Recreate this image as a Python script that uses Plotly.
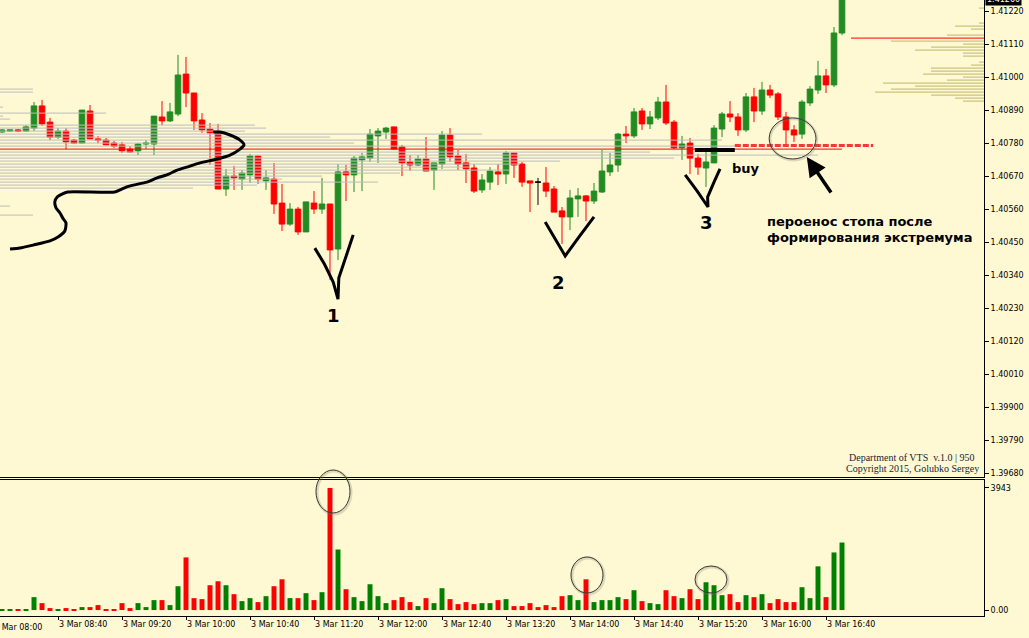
import pandas as pd
import plotly.graph_objects as go

# ---------------- EURUSD-style M5 session, 3 Mar ----------------
bar_times = pd.date_range("2015-03-03 08:05", periods=106, freq="5min")

open_ = [
    1.40817, 1.40820, 1.40824, 1.40820, 1.40830, 1.40904, 1.40850, 1.40800, 1.40820, 1.40790,
    1.40780, 1.40887, 1.40794, 1.40790, 1.40780, 1.40774, 1.40760, 1.40754, 1.40777, 1.40777,
    1.40867, 1.40854, 1.40877, 1.41010, 1.40947, 1.40857, 1.40827, 1.40814, 1.40627, 1.40670,
    1.40660, 1.40674, 1.40737, 1.40654, 1.40660, 1.40580, 1.40510, 1.40560, 1.40484, 1.40580,
    1.40560, 1.40577, 1.40427, 1.40684, 1.40674, 1.40724, 1.40730, 1.40804, 1.40817, 1.40834,
    1.40767, 1.40717, 1.40707, 1.40727, 1.40690, 1.40710, 1.40807, 1.40737, 1.40714, 1.40697,
    1.40624, 1.40650, 1.40684, 1.40677, 1.40747, 1.40710, 1.40654, 1.40650, 1.40647, 1.40627,
    1.40554, 1.40534, 1.40594, 1.40604, 1.40587, 1.40617, 1.40684, 1.40707, 1.40810, 1.40804,
    1.40887, 1.40844, 1.40864, 1.40917, 1.40850, 1.40764, 1.40780, 1.40730, 1.40697, 1.40714,
    1.40827, 1.40877, 1.40867, 1.40824, 1.40934, 1.40887, 1.40957, 1.40944, 1.40867, 1.40824,
    1.40810, 1.40914, 1.40957, 1.41004, 1.40974, 1.41147]

high = [
    1.40827, 1.40824, 1.40827, 1.40840, 1.40917, 1.40924, 1.40864, 1.40830, 1.40830, 1.40794,
    1.40890, 1.40907, 1.40804, 1.40797, 1.40787, 1.40784, 1.40770, 1.40780, 1.40790, 1.40870,
    1.40920, 1.40914, 1.41074, 1.41067, 1.40947, 1.40880, 1.40847, 1.40844, 1.40694, 1.40704,
    1.40690, 1.40744, 1.40740, 1.40690, 1.40714, 1.40644, 1.40580, 1.40567, 1.40584, 1.40620,
    1.40664, 1.40577, 1.40710, 1.40707, 1.40737, 1.40747, 1.40827, 1.40830, 1.40834, 1.40834,
    1.40774, 1.40740, 1.40740, 1.40800, 1.40714, 1.40820, 1.40830, 1.40757, 1.40744, 1.40710,
    1.40677, 1.40700, 1.40710, 1.40754, 1.40747, 1.40717, 1.40654, 1.40664, 1.40700, 1.40637,
    1.40567, 1.40624, 1.40630, 1.40607, 1.40647, 1.40757, 1.40747, 1.40814, 1.40837, 1.40897,
    1.40897, 1.40887, 1.40934, 1.40974, 1.40857, 1.40804, 1.40797, 1.40744, 1.40750, 1.40840,
    1.40884, 1.40920, 1.40880, 1.40947, 1.40964, 1.40984, 1.40974, 1.40950, 1.40884, 1.40840,
    1.40924, 1.40970, 1.41054, 1.41027, 1.41167, 1.41260]

low = [
    1.40814, 1.40817, 1.40817, 1.40817, 1.40820, 1.40837, 1.40790, 1.40794, 1.40760, 1.40777,
    1.40780, 1.40794, 1.40780, 1.40774, 1.40764, 1.40747, 1.40747, 1.40740, 1.40760, 1.40740,
    1.40840, 1.40850, 1.40870, 1.40900, 1.40824, 1.40814, 1.40707, 1.40627, 1.40604, 1.40624,
    1.40624, 1.40647, 1.40644, 1.40624, 1.40544, 1.40487, 1.40504, 1.40474, 1.40484, 1.40544,
    1.40544, 1.40324, 1.40390, 1.40587, 1.40617, 1.40620, 1.40717, 1.40714, 1.40794, 1.40760,
    1.40670, 1.40687, 1.40704, 1.40687, 1.40624, 1.40694, 1.40717, 1.40690, 1.40647, 1.40614,
    1.40614, 1.40624, 1.40640, 1.40644, 1.40664, 1.40634, 1.40550, 1.40574, 1.40600, 1.40550,
    1.40444, 1.40490, 1.40534, 1.40520, 1.40577, 1.40614, 1.40670, 1.40684, 1.40780, 1.40797,
    1.40824, 1.40827, 1.40857, 1.40840, 1.40760, 1.40724, 1.40677, 1.40674, 1.40634, 1.40714,
    1.40800, 1.40850, 1.40804, 1.40817, 1.40850, 1.40874, 1.40930, 1.40857, 1.40767, 1.40784,
    1.40794, 1.40904, 1.40944, 1.40947, 1.40967, 1.41140]

close = [
    1.40824, 1.40824, 1.40820, 1.40834, 1.40904, 1.40844, 1.40800, 1.40820, 1.40784, 1.40780,
    1.40890, 1.40794, 1.40790, 1.40774, 1.40770, 1.40754, 1.40750, 1.40777, 1.40780, 1.40870,
    1.40854, 1.40884, 1.41007, 1.40947, 1.40854, 1.40824, 1.40814, 1.40627, 1.40670, 1.40664,
    1.40680, 1.40737, 1.40660, 1.40664, 1.40577, 1.40510, 1.40560, 1.40484, 1.40584, 1.40560,
    1.40577, 1.40424, 1.40684, 1.40674, 1.40730, 1.40734, 1.40810, 1.40820, 1.40830, 1.40760,
    1.40714, 1.40707, 1.40727, 1.40687, 1.40714, 1.40807, 1.40734, 1.40710, 1.40694, 1.40620,
    1.40657, 1.40687, 1.40677, 1.40747, 1.40707, 1.40650, 1.40647, 1.40650, 1.40620, 1.40550,
    1.40534, 1.40597, 1.40604, 1.40587, 1.40620, 1.40687, 1.40707, 1.40810, 1.40804, 1.40884,
    1.40844, 1.40867, 1.40917, 1.40847, 1.40764, 1.40777, 1.40730, 1.40700, 1.40717, 1.40830,
    1.40877, 1.40867, 1.40824, 1.40934, 1.40887, 1.40957, 1.40940, 1.40867, 1.40824, 1.40807,
    1.40917, 1.40960, 1.41004, 1.40974, 1.41147, 1.41260]

volume = [
    15, 15, 15, 15, 417, 224, 64, 32, 64, 32,
    96, 96, 160, 10, 32, 224, 64, 224, 96, 321,
    321, 160, 770, 1700, 385, 353, 802, 930, 802, 513,
    289, 385, 257, 449, 770, 994, 385, 385, 545, 321,
    577, 3943, 1956, 673, 417, 289, 834, 449, 224, 321,
    417, 257, 128, 385, 224, 705, 353, 192, 257, 192,
    224, 224, 321, 353, 128, 128, 224, 96, 160, 96,
    449, 481, 321, 994, 257, 321, 321, 417, 353, 641,
    289, 224, 192, 641, 449, 385, 673, 353, 898, 802,
    481, 513, 257, 481, 417, 513, 224, 353, 257, 257,
    738, 385, 1411, 417, 1860, 2181]

# Volume-at-price profiles (price level, accumulated ticks)
left_profile_price = [1.40960, 1.40950, 1.40900, 1.40880, 1.40870, 1.40860, 1.40840, 1.40830,
                      1.40820, 1.40810, 1.40800, 1.40790, 1.40780, 1.40770, 1.40760, 1.40750,
                      1.40740, 1.40730, 1.40720, 1.40710, 1.40700, 1.40690, 1.40680, 1.40670,
                      1.40660, 1.40650, 1.40640, 1.40630, 1.40570, 1.40540]
left_profile_vol = [33, 33, 3, 106, 3, 10, 255, 266,
                    245, 482, 330, 722, 354, 740, 842, 650,
                    818, 674, 560, 520, 470, 510, 400, 322,
                    282, 378, 257, 193, 10, 33]
left_poc_price = 1.40760

right_profile_price = [1.41230, 1.41180, 1.41170, 1.41160, 1.41140, 1.41130, 1.41120, 1.41110,
                       1.41100, 1.41090, 1.41080, 1.41070, 1.41050, 1.41040, 1.41030, 1.41020,
                       1.41010, 1.41000, 1.40990, 1.40980, 1.40970, 1.40960, 1.40950, 1.40940,
                       1.40930, 1.40920]
right_profile_vol = [5, 5, 29, 13, 37, 133, 93, 21,
                     53, 69, 21, 21, 5, 13, 53, 53,
                     61, 21, 37, 101, 69, 93, 109, 53,
                     29, 21]
right_poc_price = 1.41130

buy_price = 1.40757
moved_stop_price = 1.40772
last_price = 1.41260

price_ticks = [1.39680, 1.39790, 1.39900, 1.40010, 1.40120, 1.40230, 1.40340, 1.40450,
               1.40560, 1.40670, 1.40780, 1.40890, 1.41000, 1.41110, 1.41220]

# ---------------- styling ----------------
BG = "#FEF9D3"
GREEN_C = "#228B22"
GREEN_V = "#008000"
RED = "#FF0000"
GREY = "#BDBDBD"
KHAKI = "#BDB76B"
TICKFONT = dict(family="DejaVu Sans", size=8, color="#000000")

W, H = 1029, 638
X_MIN, X_MAX = -0.25, 122.75
PROFILE_SCALE = 1 / 8.0  # ticks -> bar widths

idx = list(range(len(open_)))
doji = [i for i in idx if open_[i] == close[i]]
regular = [i for i in idx if i not in doji]

fig = go.Figure()

# volume-at-price profile on the left of the session
xs, ys = [], []
for p, v in zip(left_profile_price, left_profile_vol):
    if p == left_poc_price:
        continue
    xs += [X_MIN, X_MIN + v * PROFILE_SCALE, None]
    ys += [p, p, None]
fig.add_trace(go.Scatter(x=xs, y=ys, mode="lines", line=dict(color=GREY, width=1),
                         hoverinfo="skip", xaxis="x", yaxis="y"))
poc_len = left_profile_vol[left_profile_price.index(left_poc_price)]
fig.add_trace(go.Scatter(x=[X_MIN, X_MIN + poc_len * PROFILE_SCALE], y=[left_poc_price] * 2,
                         mode="lines", line=dict(color=RED, width=1), hoverinfo="skip"))

# volume-at-price profile anchored to the right edge
xs, ys = [], []
for p, v in zip(right_profile_price, right_profile_vol):
    if p == right_poc_price:
        continue
    xs += [X_MAX - v * PROFILE_SCALE, X_MAX, None]
    ys += [p, p, None]
fig.add_trace(go.Scatter(x=xs, y=ys, mode="lines", line=dict(color=KHAKI, width=1),
                         hoverinfo="skip"))
rpoc_len = right_profile_vol[right_profile_price.index(right_poc_price)]
fig.add_trace(go.Scatter(x=[X_MAX - rpoc_len * PROFILE_SCALE, X_MAX], y=[right_poc_price] * 2,
                         mode="lines", line=dict(color=RED, width=1), hoverinfo="skip"))

# candles
fig.add_trace(go.Candlestick(
    x=regular,
    open=[open_[i] for i in regular], high=[high[i] for i in regular],
    low=[low[i] for i in regular], close=[close[i] for i in regular],
    increasing=dict(line=dict(color=GREEN_C, width=1), fillcolor=GREEN_C),
    decreasing=dict(line=dict(color=RED, width=1), fillcolor=RED),
    hoverinfo="skip", xaxis="x", yaxis="y"))
fig.add_trace(go.Candlestick(
    x=doji,
    open=[open_[i] for i in doji], high=[high[i] for i in doji],
    low=[low[i] for i in doji], close=[close[i] for i in doji],
    increasing=dict(line=dict(color="#000000", width=1), fillcolor="#000000"),
    decreasing=dict(line=dict(color="#000000", width=1), fillcolor="#000000"),
    hoverinfo="skip", xaxis="x", yaxis="y"))

# volume histogram
vol_colors = [GREEN_V if close[i] > open_[i] else RED for i in idx]
fig.add_trace(go.Bar(x=idx, y=volume, marker=dict(color=vol_colors, line=dict(width=0)),
                     width=0.62, hoverinfo="skip", xaxis="x2", yaxis="y2"))

# ---------------- hand-drawn markup ----------------
pen = dict(color="#000000", width=3)
swing_curve = [(1.0, 1.40427), (2.25, 1.40430), (3.9, 1.40440), (6.0, 1.40454), (7.0, 1.40467),
               (7.85, 1.40487), (8.0, 1.40514), (7.6, 1.40530), (7.25, 1.40547), (6.75, 1.40564),
               (6.6, 1.40584), (6.9, 1.40600), (7.5, 1.40610), (8.2, 1.40617), (14.1, 1.40617),
               (14.75, 1.40624), (15.6, 1.40634), (16.4, 1.40640), (18.1, 1.40650),
               (19.4, 1.40664), (20.6, 1.40674), (21.9, 1.40690), (23.1, 1.40700),
               (24.75, 1.40714), (26.9, 1.40727), (28.5, 1.40740), (29.75, 1.40760),
               (30.25, 1.40774), (29.75, 1.40790), (28.5, 1.40807), (27.25, 1.40817),
               (26.4, 1.40817)]
fig.add_trace(go.Scatter(x=[p[0] for p in swing_curve], y=[p[1] for p in swing_curve],
                         mode="lines", line=dict(color="#000000", width=3, shape="spline",
                                                 smoothing=0.6), hoverinfo="skip"))

checks = [
    [(39.1, 1.40430), (40.3, 1.40377), (41.4, 1.40317), (42.0, 1.40260), (42.1, 1.40330),
     (43.1, 1.40414), (43.9, 1.40474)],
    [(67.9, 1.40517), (69.2, 1.40460), (70.4, 1.40404), (72.2, 1.40470), (74.0, 1.40534)],
    [(85.4, 1.40674), (86.9, 1.40620), (88.25, 1.40567), (88.2, 1.40600), (89.0, 1.40650),
     (89.75, 1.40694)],
]
for c in checks:
    fig.add_trace(go.Scatter(x=[p[0] for p in c], y=[p[1] for p in c], mode="lines",
                             line=pen, hoverinfo="skip"))

# entry marker and the moved stop
fig.add_trace(go.Scatter(x=[86.6, 91.6], y=[buy_price] * 2, mode="lines",
                         line=dict(color="#000000", width=4), hoverinfo="skip"))
fig.add_trace(go.Scatter(x=[91.6, 108.9], y=[moved_stop_price] * 2, mode="lines",
                         line=dict(color="#F23A3A", width=3, dash="6px,2px"), hoverinfo="skip"))

ring = dict(color="#3A3A3A", width=1)
halo = dict(color="rgba(120,120,100,0.25)", width=3)
shapes = [
    dict(type="circle", xref="x", yref="y", x0=96.0, x1=101.85, y0=1.40724, y1=1.40861,
         line=halo),
    dict(type="circle", xref="x", yref="y", x0=95.9, x1=101.75, y0=1.40727, y1=1.40864,
         line=ring),
]
for (x0, x1, y0, y1) in [(316, 350, 513, 470), (571, 603, 593, 557), (695, 727, 593, 566)]:
    shapes.append(dict(type="circle", xref="paper", yref="paper", x0=(x0 + 1) / W,
                       x1=(x1 + 1) / W, y0=1 - (y0 + 1) / H, y1=1 - (y1 + 1) / H, line=halo))
    shapes.append(dict(type="circle", xref="paper", yref="paper", x0=x0 / W, x1=x1 / W,
                       y0=1 - y0 / H, y1=1 - y1 / H, line=ring))

label_font = dict(family="DejaVu Sans", size=18, color="#000000")
note_font = dict(family="DejaVu Sans", size=13, color="#000000")
sig_font = dict(family="Liberation Serif", size=10, color="#1A1A3A")
annotations = [
    dict(x=41.4, y=1.40204, text="<b>1</b>", font=label_font, showarrow=False),
    dict(x=69.5, y=1.40317, text="<b>2</b>", font=label_font, showarrow=False),
    dict(x=88.1, y=1.40514, text="<b>3</b>", font=label_font, showarrow=False),
    dict(x=93.0, y=1.40697, text="<b>buy</b>", font=note_font, showarrow=False),
    dict(x=95.4, y=1.40520, text="<b>пероенос стопа после</b>", xanchor="left",
         font=note_font, showarrow=False),
    dict(x=95.4, y=1.40464, text="<b>формирования экстремума</b>", xanchor="left",
         font=note_font, showarrow=False),
    dict(x=100.6, y=1.40734, ax=103.75, ay=1.40610, xref="x", yref="y", axref="x", ayref="y",
         text="", showarrow=True, arrowhead=2, arrowsize=1.1, arrowwidth=3.5,
         arrowcolor="#000000"),
    dict(x=912 / W, y=1 - 457 / H, xref="paper", yref="paper", xanchor="center",
         yanchor="middle", text="Department of VTS\u00a0\u00a0v.1.0 | 950",
         font=sig_font, showarrow=False),
    dict(x=912 / W, y=1 - 468 / H, xref="paper", yref="paper", xanchor="center",
         yanchor="middle", text="Copyright 2015, Golubko Sergey",
         font=sig_font, showarrow=False),
    # current price tag on the price scale
    dict(x=985 / W, y=1 + 1 / H, xref="paper", yref="paper", xanchor="left",
         yanchor="middle", text="%.5f" % last_price, bgcolor="#000000", borderpad=1,
         font=dict(family="DejaVu Sans", size=8, color="#FFFFFF"), showarrow=False),
    # first time label, partly beyond the left edge
    dict(x=-8 / W, y=1 - 627 / H, xref="paper", yref="paper", xanchor="left",
         yanchor="middle", text=bar_times[0].strftime("%-d %b") + " 08:00",
         font=TICKFONT, showarrow=False),
]

# time axis ticks every 40 minutes
tick_idx = [i for i, t in enumerate(bar_times) if (t.hour * 60 + t.minute) % 40 == 0]
tick_txt = [bar_times[i].strftime("%-d %b %H:%M") for i in tick_idx]

main_top, main_bot = 0, 477
vol_top, vol_bot = 480, 616
xdom = [0, 984 / W]

fig.update_layout(
    width=W, height=H, margin=dict(l=0, r=0, t=0, b=0),
    paper_bgcolor=BG, plot_bgcolor=BG, showlegend=False,
    boxgap=0.3, boxgroupgap=0.0,
    shapes=shapes, annotations=annotations,
    xaxis=dict(domain=xdom, range=[X_MIN, X_MAX], showgrid=False, zeroline=False,
               showticklabels=False, ticks="", showline=True, linecolor="#000000",
               linewidth=1, rangeslider=dict(visible=False), anchor="y"),
    yaxis=dict(domain=[1 - main_bot / H, 1 - main_top / H],
               range=[1.39667, 1.41257], side="right", showgrid=False, zeroline=False,
               tickvals=price_ticks, ticktext=["%.5f" % v for v in price_ticks],
               ticks="outside", ticklen=4, tickcolor="#000000", tickfont=TICKFONT,
               showline=True, linecolor="#000000", linewidth=1, anchor="x"),
    xaxis2=dict(domain=xdom, range=[X_MIN, X_MAX], matches="x", showgrid=False,
                zeroline=False, tickvals=tick_idx, ticktext=tick_txt, ticks="outside",
                ticklen=3, tickcolor="#000000", tickfont=TICKFONT,
                ticklabelposition="outside right", showline=True, mirror=True,
                linecolor="#000000", linewidth=1, anchor="y2"),
    yaxis2=dict(domain=[1 - vol_bot / H, 1 - vol_top / H], range=[-192, 4200], side="right",
                showgrid=False, zeroline=False, tickvals=[0, 3943],
                ticktext=["0.00", "3943"], ticks="outside", ticklen=4, tickcolor="#000000",
                tickfont=TICKFONT, showline=True, linecolor="#000000", linewidth=1,
                anchor="x2"),
)

fig.write_html("out.html")
